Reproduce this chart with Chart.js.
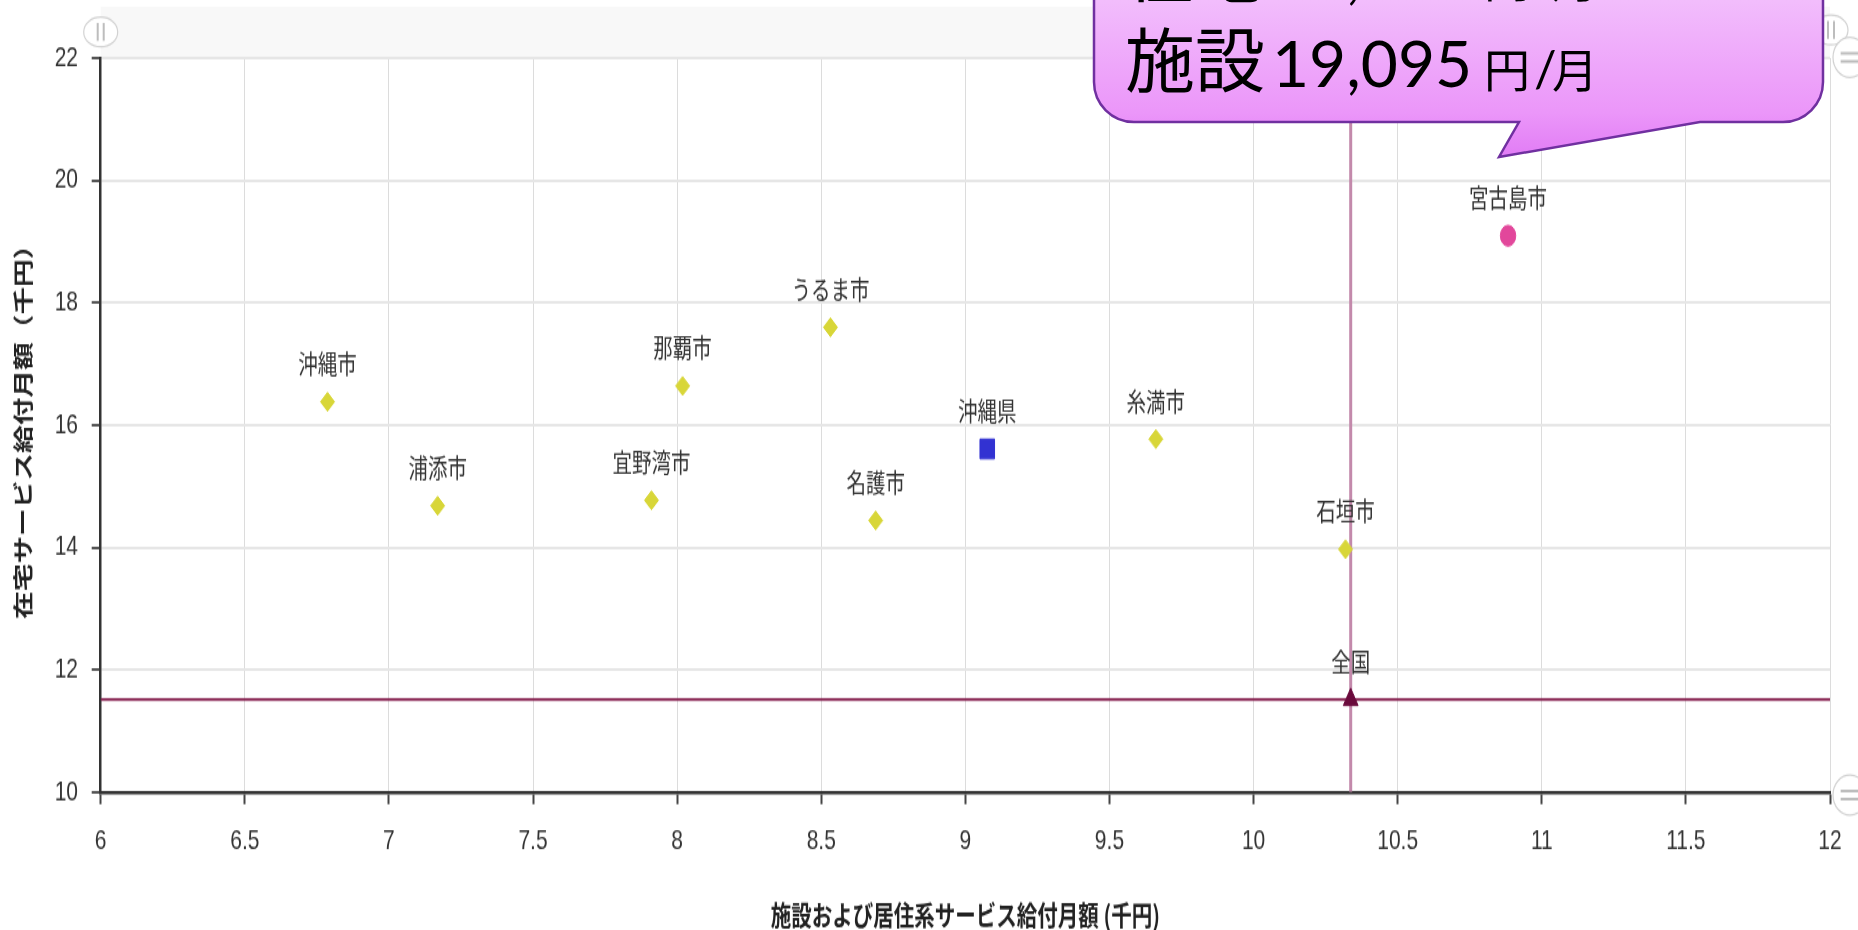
<!DOCTYPE html>
<html>
<head>
<meta charset="utf-8">
<script src="https://cdn.jsdelivr.net/npm/chart.js@4.4.1/dist/chart.umd.min.js"></script>
<style>
html,body{margin:0;padding:0;background:#fff;overflow:hidden;width:1858px;height:930px;}
#wrap{position:absolute;left:0;top:0;width:1858px;height:689px;transform:scaleY(1.3498);transform-origin:0 0;}
#c{display:block;width:1858px;height:689px;}
#callout{position:absolute;left:0;top:0;width:1858px;height:930px;pointer-events:none;overflow:hidden;}
</style>
</head>
<body>
<div id="wrap"><canvas id="c" width="1858" height="689"></canvas></div>
<svg id="callout" xmlns="http://www.w3.org/2000/svg" width="1858" height="930" viewBox="0 0 1858 930"></svg>
<script>
// ---------------- data ----------------
const cityNames     = ['沖縄市','浦添市','宜野湾市','那覇市','うるま市','名護市','糸満市','石垣市'];
const cityShisetsu  = [6.787, 7.169, 7.911, 8.019, 8.532, 8.689, 9.661, 10.319];
const cityZaitaku   = [16.38, 14.68, 14.77, 16.64, 17.60, 14.44, 15.77, 13.97];

const prefNames     = ['沖縄県'];
const prefShisetsu  = [9.076];
const prefZaitaku   = [15.61];

const miyakoNames    = ['宮古島市'];
const miyakoShisetsu = [10.883];
const miyakoZaitaku  = [19.095];

const nationNames    = ['全国'];
const nationShisetsu = [10.337];
const nationZaitaku  = [11.51];

const xTicks = [6, 6.5, 7, 7.5, 8, 8.5, 9, 9.5, 10, 10.5, 11, 11.5, 12];
const yTicks = [10, 12, 14, 16, 18, 20, 22];

const xTitle = '施設および居住系サービス給付月額 (千円)';
const yTitle = '在宅サービス給付月額（千円）';

const calloutLine1 = ['在宅', '10,883', '円', '/', '月'];
const calloutLine2 = ['施設', '19,095', '円', '/', '月'];

// ---------------- helpers ----------------
function pts(xs, ys) { return xs.map((v, i) => ({x: v, y: ys[i]})); }

const xMin = xTicks[0], xMax = xTicks[xTicks.length - 1];
const yMin = yTicks[0], yMax = yTicks[yTicks.length - 1];

const labelPlugin = {
  id: 'pointLabels',
  afterDatasetsDraw(chart) {
    const ctx = chart.ctx;
    ctx.save();
    ctx.font = '19.5px "Noto Sans CJK JP"';
    ctx.fillStyle = '#333';
    ctx.textAlign = 'center';
    ctx.textBaseline = 'middle';
    chart.data.datasets.forEach((ds, i) => {
      if (!ds.names) return;
      const meta = chart.getDatasetMeta(i);
      meta.data.forEach((el, j) => {
        ctx.fillText(ds.names[j], el.x, el.y - 28);
      });
    });
    ctx.restore();
  }
};

function handle(ctx, cx, cy, rx, ry, vertical) {
  ctx.save();
  ctx.beginPath();
  ctx.ellipse(cx, cy, rx, ry, 0, 0, Math.PI * 2);
  ctx.fillStyle = '#fff';
  ctx.fill();
  ctx.strokeStyle = '#d2d2d2';
  ctx.lineWidth = 1.2;
  ctx.stroke();
  ctx.strokeStyle = '#bdbdbd';
  ctx.lineWidth = 2;
  ctx.beginPath();
  if (vertical) {
    ctx.moveTo(cx - 3, cy - ry * 0.6); ctx.lineTo(cx - 3, cy + ry * 0.6);
    ctx.moveTo(cx + 3, cy - ry * 0.6); ctx.lineTo(cx + 3, cy + ry * 0.6);
  } else {
    ctx.moveTo(cx - rx * 0.55, cy - 3); ctx.lineTo(cx + rx * 0.55, cy - 3);
    ctx.moveTo(cx - rx * 0.55, cy + 3); ctx.lineTo(cx + rx * 0.55, cy + 3);
  }
  ctx.stroke();
  ctx.restore();
}

const decoPlugin = {
  id: 'deco',
  beforeDraw(chart) {
    const {ctx, chartArea: a} = chart;
    ctx.save();
    ctx.fillStyle = '#f8f8f8';
    ctx.fillRect(a.left, 5, a.right - a.left, a.top - 5);
    ctx.restore();
  },
  afterDraw(chart) {
    const {ctx, chartArea: a} = chart;
    handle(ctx, a.left, a.top - 19.3, 17, 11, true);
    handle(ctx, a.right + 1, a.top - 20.8, 17, 11, true);
    handle(ctx, a.right + 20, a.top - 0.5, 17, 14.8, false);
    handle(ctx, a.right + 20, a.bottom + 2.2, 17, 14.8, false);
  }
};

const chart = new Chart(document.getElementById('c'), {
  type: 'scatter',
  data: {
    datasets: [
      {
        type: 'line', label: 'h', order: 2,
        data: [{x: xMin, y: nationZaitaku[0]}, {x: xMax, y: nationZaitaku[0]}],
        borderColor: '#86204f', borderWidth: 2, pointRadius: 0, fill: false
      },
      {
        type: 'line', label: 'v', order: 2,
        data: [{x: nationShisetsu[0], y: yMin}, {x: nationShisetsu[0], y: yMax}],
        borderColor: '#c389ab', borderWidth: 3, pointRadius: 0, fill: false
      },
      {
        label: 'cities', names: cityNames, data: pts(cityShisetsu, cityZaitaku),
        pointStyle: 'rectRot', pointRadius: 7, pointHoverRadius: 7,
        backgroundColor: '#d8d638', borderColor: '#d8d638', borderWidth: 1
      },
      {
        label: 'pref', names: prefNames, data: pts(prefShisetsu, prefZaitaku),
        pointStyle: 'rect', pointRadius: 10.3, pointHoverRadius: 10.3,
        backgroundColor: '#3232d2', borderColor: '#3232d2', borderWidth: 1
      },
      {
        label: 'miyako', names: miyakoNames, data: pts(miyakoShisetsu, miyakoZaitaku),
        pointStyle: 'circle', pointRadius: 7.7, pointHoverRadius: 7.7,
        backgroundColor: '#e2479b', borderColor: '#e2479b', borderWidth: 1
      },
      {
        label: 'nation', names: nationNames, data: pts(nationShisetsu, nationZaitaku),
        pointStyle: 'triangle', pointRadius: 8.5, pointHoverRadius: 8.5,
        backgroundColor: '#6a0a3c', borderColor: '#6a0a3c', borderWidth: 1
      }
    ]
  },
  options: {
    responsive: false,
    animation: false,
    devicePixelRatio: 1,
    events: [],
    layout: {padding: {left: 0, top: 43, right: 28, bottom: 0}},
    plugins: {legend: {display: false}, tooltip: {enabled: false}},
    scales: {
      x: {
        type: 'linear', min: xMin, max: xMax,
        afterBuildTicks: s => { s.ticks = xTicks.map(v => ({value: v})); },
        afterFit: s => { s.height = 102.2; },
        grid: {color: '#dcdcdc', lineWidth: 1, tickLength: 9, tickColor: '#444', tickWidth: 2},
        border: {color: '#333', width: 2.5},
        ticks: {color: '#333', font: {family: 'Liberation Sans', size: 21}, padding: 15,
                maxRotation: 0, autoSkip: false, callback: v => String(v)},
        title: {display: true, text: xTitle, color: '#222',
                font: {family: 'Noto Sans CJK JP', size: 20.5, weight: 'bold', lineHeight: 1},
                padding: {top: 0, bottom: 0.5}}
      },
      y: {
        type: 'linear', min: yMin, max: yMax,
        afterBuildTicks: s => { s.ticks = yTicks.map(v => ({value: v})); },
        afterFit: s => { s.width = 100.7; },
        grid: {color: '#e6e6e6', lineWidth: 2, tickLength: 9, tickColor: '#555', tickWidth: 2},
        border: {color: '#333', width: 2.5},
        ticks: {color: '#333', font: {family: 'Liberation Sans', size: 21}, padding: 13.7,
                autoSkip: false, callback: v => String(v)},
        title: {display: true, text: yTitle, color: '#222',
                font: {family: 'Noto Sans CJK JP', size: 20.5, weight: 'bold', lineHeight: 1.2},
                padding: {top: 10.7, bottom: 0}}
      }
    }
  },
  plugins: [decoPlugin, labelPlugin]
});

if (document.fonts && document.fonts.ready) {
  document.fonts.ready.then(() => chart.update('none'));
}

// ---------------- callout (overlay) ----------------
(function buildCallout() {
  const NS = 'http://www.w3.org/2000/svg';
  const svg = document.getElementById('callout');
  const defs = document.createElementNS(NS, 'defs');
  const grad = document.createElementNS(NS, 'linearGradient');
  grad.setAttribute('id', 'cg');
  grad.setAttribute('gradientUnits', 'userSpaceOnUse');
  grad.setAttribute('x1', '0'); grad.setAttribute('y1', '0');
  grad.setAttribute('x2', '0'); grad.setAttribute('y2', '157');
  [['0', '#f2bdfc'], ['0.72', '#eb96f9'], ['1', '#e17cf5']].forEach(([o, c]) => {
    const s = document.createElementNS(NS, 'stop');
    s.setAttribute('offset', o); s.setAttribute('stop-color', c);
    grad.appendChild(s);
  });
  defs.appendChild(grad);
  svg.appendChild(defs);

  const path = document.createElementNS(NS, 'path');
  path.setAttribute('d', 'M1094,-40 L1823,-40 L1823,82 A40,40 0 0 1 1783,122 L1700,122 L1499,157 L1519,122 L1134,122 A40,40 0 0 1 1094,82 Z');
  path.setAttribute('fill', 'url(#cg)');
  path.setAttribute('stroke', '#7030a0');
  path.setAttribute('stroke-width', '2.5');
  path.setAttribute('stroke-linejoin', 'miter');
  svg.appendChild(path);

  const styles = [
    {x: 1125, size: 70, fam: 'Noto Sans CJK JP'},
    {x: 1272, size: 64, fam: 'Lato'},
    {x: 1484, size: 46, fam: 'Noto Sans CJK JP'},
    {x: 1534, size: 50, fam: 'Lato'},
    {x: 1552, size: 46, fam: 'Noto Sans CJK JP'}
  ];
  function line(parts, y) {
    const t = document.createElementNS(NS, 'text');
    t.setAttribute('y', String(y));
    t.setAttribute('fill', '#000');
    parts.forEach((p, i) => {
      const sp = document.createElementNS(NS, 'tspan');
      sp.setAttribute('x', String(styles[i].x));
      sp.setAttribute('font-size', String(styles[i].size));
      sp.setAttribute('font-family', styles[i].fam);
      sp.textContent = p;
      t.appendChild(sp);
    });
    svg.appendChild(t);
  }
  line(calloutLine1, -3);
  line(calloutLine2, 87);
})();
</script>
</body>
</html>
